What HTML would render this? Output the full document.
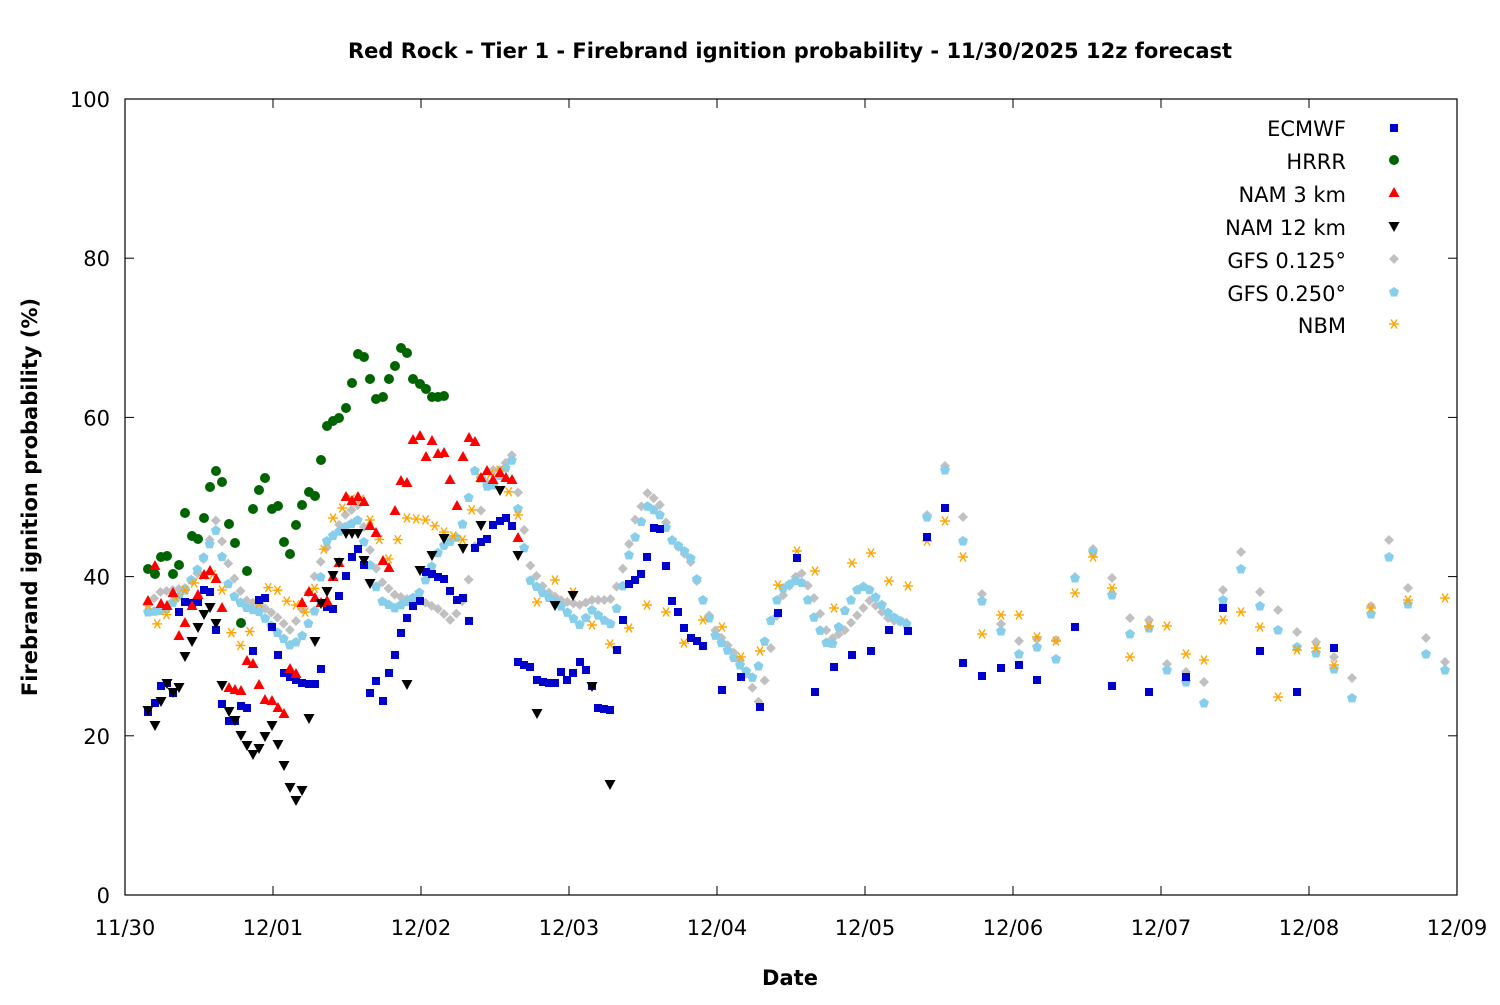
<!DOCTYPE html>
<html><head><meta charset="utf-8"><style>
body{margin:0;background:#fff}
svg text{font-family:"DejaVu Sans","Liberation Sans",sans-serif;}
</style></head><body>
<svg id="s" width="1500" height="1000" xmlns="http://www.w3.org/2000/svg">
<rect width="1500" height="1000" fill="#fff"/>
<text x="790" y="58" font-size="21" font-weight="bold" text-anchor="middle">Red Rock - Tier 1 - Firebrand ignition probability - 11/30/2025 12z forecast</text>
<text x="790" y="985" font-size="21" font-weight="bold" text-anchor="middle">Date</text>
<text transform="translate(37,497) rotate(-90)" font-size="21" font-weight="bold" text-anchor="middle">Firebrand ignition probability (%)</text>
<g id="ax"></g>
<g id="pts"></g>
<g font-size="21" text-anchor="end">
<text x="1346" y="136">ECMWF</text>
<text x="1346" y="169">HRRR</text>
<text x="1346" y="202">NAM 3 km</text>
<text x="1346" y="235">NAM 12 km</text>
<text x="1346" y="268">GFS 0.125°</text>
<text x="1346" y="301">GFS 0.250°</text>
<text x="1346" y="333">NBM</text>
</g>
</svg>
<script>
const NS="http://www.w3.org/2000/svg";
const ax=document.getElementById('ax'),P=document.getElementById('pts');
let h='<rect x="125" y="99" width="1332" height="796" fill="none" stroke="#000" stroke-width="1.2"/>';
for(let i=0;i<=5;i++){const y=895-i*159.2;h+=`<line x1="125" x2="134" y1="${y}" y2="${y}" stroke="#000"/><line x1="1448" x2="1457" y1="${y}" y2="${y}" stroke="#000"/><text x="110" y="${y+8}" font-size="21" text-anchor="end">${i*20}</text>`;}
const lab=["11/30","12/01","12/02","12/03","12/04","12/05","12/06","12/07","12/08","12/09"];
for(let i=0;i<=9;i++){const x=125+i*148;h+=`<line x1="${x}" x2="${x}" y1="895" y2="886" stroke="#000"/><line x1="${x}" x2="${x}" y1="99" y2="108" stroke="#000"/><text x="${x}" y="935" font-size="21" text-anchor="middle">${lab[i]}</text>`;}
ax.innerHTML=h;
let o='';
function sq(x,y,c){o+=`<rect x="${x-4}" y="${y-4}" width="8" height="8" fill="${c}"/>`}
function ci(x,y,c,r){o+=`<circle cx="${x}" cy="${y}" r="${r}" fill="${c}"/>`}
function tu(x,y,c){o+=`<polygon points="${x},${y-6} ${x-5.5},${y+4} ${x+5.5},${y+4}" fill="${c}"/>`}
function td(x,y,c){o+=`<polygon points="${x},${y+6} ${x-5.5},${y-4} ${x+5.5},${y-4}" fill="${c}"/>`}
function di(x,y,c){o+=`<polygon points="${x},${y-5} ${x+5},${y} ${x},${y+5} ${x-5},${y}" fill="${c}"/>`}
function pe(x,y,c){o+=`<polygon points="${x},${y-5} ${x+5},${y-1.5} ${x+3},${y+4.5} ${x-3},${y+4.5} ${x-5},${y-1.5}" fill="${c}"/>`}
function st(x,y,c){o+=`<g stroke="${c}" stroke-width="1.4"><line x1="${x-5}" x2="${x+5}" y1="${y}" y2="${y}"/><line x1="${x-3}" x2="${x+3}" y1="${y-4.5}" y2="${y+4.5}"/><line x1="${x-3}" x2="${x+3}" y1="${y+4.5}" y2="${y-4.5}"/></g>`}
function interp(k,x){for(let i=0;i<k.length-1;i++){if(x>=k[i][0]&&x<=k[i+1][0]){const t=(x-k[i][0])/(k[i+1][0]-k[i][0]);return k[i][1]+t*(k[i+1][1]-k[i][1]);}}return null}
function series(k,x0,x1,step,f,c){for(let x=x0;x<=x1+0.01;x+=step){const y=interp(k,x);if(y!==null)f(x,y,c);}}
const hr=148/24;
// GFS 0.125
const g1=[[148,605],[160,592],[185,588],[200,570],[216,520],[230,570],[245,600],[260,605],[275,615],[290,630],[300,615],[315,575],[330,540],[345,515],[358,505],[370,550],[380,580],[395,595],[410,600],[420,600],[440,610],[450,620],[460,610],[470,575],[480,515],[490,470],[500,470],[512,455],[520,505],[530,565],[545,590],[560,600],[580,605],[592,600],[610,600],[620,580],[635,520],[648,492],[660,505],[672,540],[690,560],[703,600],[715,630],[740,660],[760,705],[780,600],[800,570],[815,600],[830,640],[845,630],[870,600],[890,620],[908,623]];
series(g1,148,908,hr,di,'#c0c0c0');
const g1b=[[927,515],[945,466],[963,517],[982,594],[1001,624],[1019,641],[1037,639],[1056,640],[1075,577],[1093,549],[1112,578],[1130,618],[1149,620],[1167,664],[1186,672],[1204,682],[1223,590],[1241,552],[1260,592],[1278,610],[1297,632],[1316,642],[1334,657],[1352,678],[1371,606],[1389,540],[1408,588],[1426,638],[1445,662]];
g1b.forEach(p=>di(p[0],p[1],'#c0c0c0'));
// GFS 0.25
const g2=[[148,612],[165,610],[185,590],[200,565],[216,530],[230,592],[245,607],[260,612],[275,630],[290,645],[300,640],[315,610],[327,540],[345,527],[358,520],[370,565],[380,600],[395,608],[410,600],[420,592],[440,548],[460,535],[475,470],[490,490],[500,475],[512,460],[520,525],[530,580],[545,595],[560,605],[580,625],[592,610],[610,625],[620,600],[630,550],[648,505],[660,515],[672,540],[690,556],[703,600],[715,635],[740,665],[755,680],[765,640],[780,590],[800,578],[815,620],[830,650],[845,610],[860,585],[870,590],[890,615],[908,625]];
series(g2,148,908,hr,pe,'#87ceeb');
const g2b=[[927,517],[945,470],[963,541],[982,601],[1001,631],[1019,654],[1037,647],[1056,659],[1075,578],[1093,552],[1112,595],[1130,634],[1149,628],[1167,670],[1186,682],[1204,703],[1223,600],[1241,569],[1260,606],[1278,630],[1297,647],[1316,653],[1334,669],[1352,698],[1371,614],[1389,557],[1408,604],[1426,654],[1445,670]];
g2b.forEach(p=>pe(p[0],p[1],'#87ceeb'));
// NBM
const nb=[[148,605],[155,622],[161,627],[173,600],[185,590],[198,580],[210,570],[222,590],[235,650],[247,640],[260,600],[272,582],[284,600],[296,605],[309,615],[321,557],[327,540],[333,518],[345,505],[358,493],[370,520],[389,560],[407,518],[426,520],[444,532],[463,540],[481,478],[500,470],[518,515]];
series(nb,148,518,hr*1.5,st,'#ffa500');
[[537,602],[555,580],[573,592],[592,625],[610,644],[629,628],[647,605],[666,612],[684,643],[703,620],[722,627],[741,657],[760,651],[778,585],[797,551],[815,571],[834,608],[852,563],[871,553],[889,581],[908,586],[927,541],[945,521],[963,557],[982,634],[1001,615],[1019,615],[1037,637],[1056,641],[1075,593],[1093,557],[1112,588],[1130,657],[1149,626],[1167,626],[1186,654],[1204,660],[1223,620],[1241,612],[1260,627],[1278,697],[1297,650],[1316,648],[1334,665],[1371,608],[1408,600],[1445,598]].forEach(p=>st(p[0],p[1],'#ffa500'));
// ECMWF
[[148,712],[155,703],[161,686],[167,683],[173,693],[179,612],[185,602],[192,603],[198,602],[204,590],[210,592],[216,630],[222,704],[229,721],[235,721],[241,706],[247,708],[253,651],[259,600],[265,598],[272,627],[278,655],[284,673],[290,677],[296,680],[302,683],[309,684],[315,684],[321,669],[327,607],[333,609],[339,596],[346,576],[352,557],[358,549],[364,565],[370,693],[376,681],[383,701],[389,673],[395,655],[401,633],[407,618],[413,606],[420,601],[426,572],[432,574],[438,577],[444,579],[450,591],[457,600],[463,598],[469,621],[475,548],[481,542],[487,539],[493,525],[500,521],[506,518],[512,526],[518,662],[524,665],[530,667],[537,680],[543,682],[549,683],[555,683],[561,672],[567,680],[573,673],[580,662],[586,670],[592,686],[598,708],[604,709],[610,710],[617,650],[623,620],[629,584],[635,580],[641,574],[647,557],[654,528],[660,529],[666,566],[672,601],[678,612],[684,628],[691,638],[697,641],[703,646],[722,690],[741,677],[760,707],[778,613],[797,558],[815,692],[834,667],[852,655],[871,651],[889,630],[908,631],[927,537],[945,508],[963,663],[982,676],[1001,668],[1019,665],[1037,680],[1075,627],[1112,686],[1149,692],[1186,677],[1223,608],[1260,651],[1297,692],[1334,648]].forEach(p=>sq(p[0],p[1],'#0000cd'));
// HRRR
[[148,569],[155,574],[161,557],[167,556],[173,574],[179,565],[185,513],[192,536],[198,539],[204,518],[210,487],[216,471],[222,482],[229,524],[235,543],[241,623],[247,571],[253,509],[259,490],[265,478],[272,509],[278,506],[284,542],[290,554],[296,525],[302,505],[309,492],[315,496],[321,460],[327,426],[333,421],[339,418],[346,408],[352,383],[358,354],[364,357],[370,379],[376,399],[383,397],[389,379],[395,366],[401,348],[407,353],[413,379],[420,384],[426,389],[432,397],[438,397],[444,396]].forEach(p=>ci(p[0],p[1],'#006400',5));
// NAM 3
[[148,601],[155,566],[161,604],[167,606],[173,593],[179,636],[185,623],[192,606],[198,595],[204,575],[210,571],[216,579],[222,608],[229,688],[235,690],[241,691],[247,661],[253,664],[259,685],[265,700],[272,701],[278,708],[284,714],[290,669],[296,674],[302,603],[309,592],[315,598],[321,603],[327,601],[333,577],[339,563],[346,497],[352,501],[358,497],[364,502],[370,526],[376,533],[383,561],[389,568],[395,511],[401,481],[407,483],[413,440],[420,436],[426,457],[432,441],[438,454],[444,453],[450,480],[457,506],[463,457],[469,438],[475,442],[481,478],[487,471],[493,480],[500,473],[506,478],[512,480],[518,538]].forEach(p=>tu(p[0],p[1],'#ff0000'));
// NAM 12
[[148,710],[155,725],[161,701],[167,683],[173,692],[179,687],[185,656],[192,641],[198,627],[204,614],[210,607],[216,623],[222,685],[229,711],[235,720],[241,735],[247,745],[253,754],[259,748],[265,736],[272,725],[278,744],[284,765],[290,787],[296,800],[302,790],[309,718],[315,641],[321,603],[327,591],[333,575],[339,562],[346,533],[352,533],[358,533],[364,560],[370,583],[407,684],[420,570],[432,555],[444,538],[463,548],[481,525],[500,490],[518,555],[537,713],[555,605],[573,595],[592,686],[610,784]].forEach(p=>td(p[0],p[1],'#000'));
// legend markers
sq(1394,128,'#0000cd');ci(1394,160,'#006400',5);tu(1394,193,'#ff0000');td(1394,226,'#000');di(1394,259,'#c0c0c0');pe(1394,292,'#87ceeb');st(1394,324,'#ffa500');
P.innerHTML=o;
</script>
</body></html>
